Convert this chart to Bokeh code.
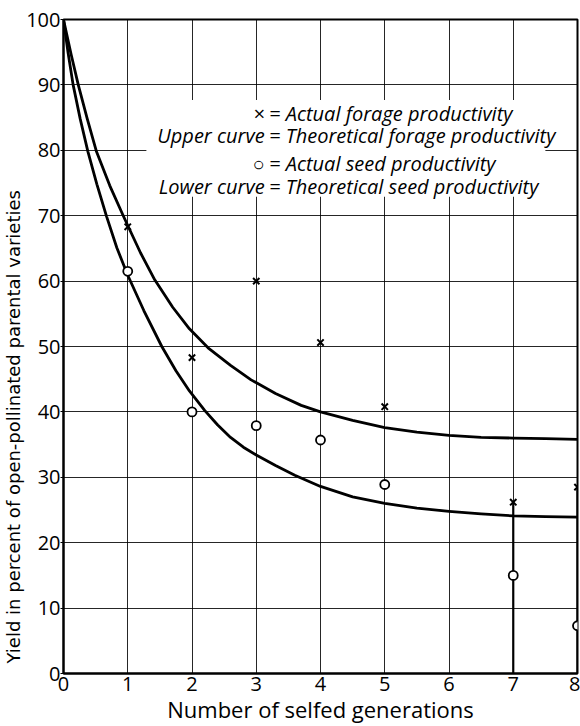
from bokeh.plotting import figure
from bokeh.models import Range1d, FixedTicker, ColumnDataSource, BoxAnnotation, Title
from bokeh.core.properties import value
from bokeh.embed import file_html
from bokeh.resources import INLINE

# ---- data ----
generations = [1, 2, 3, 4, 5, 7, 8]
forage_actual = [68.3, 48.3, 60.0, 50.6, 40.8, 26.2, 28.5]
seed_actual = [61.5, 40.0, 37.9, 35.7, 28.9, 15.0, 7.3]

upper_x = [0, 0.12, 0.23, 0.37, 0.51, 0.72, 0.93, 1.0, 1.2, 1.42, 1.7, 1.96, 2.25, 2.6, 2.92,
           3.3, 3.7, 4.0, 4.5, 5.0, 5.5, 6.0, 6.5, 7.0, 7.5, 8.0]
upper_y = [100, 94.6, 90.0, 84.8, 79.9, 74.6, 70.0, 68.5, 64.3, 60.2, 56.0, 52.7, 49.8, 47.1, 44.9,
           42.8, 41.0, 40.0, 38.7, 37.6, 36.9, 36.4, 36.1, 36.0, 35.9, 35.8]

lower_x = [0, 0.07, 0.15, 0.26, 0.38, 0.52, 0.67, 0.83, 1.0, 1.25, 1.53, 1.75, 1.96, 2.2, 2.4,
           2.6, 2.8, 3.0, 3.3, 3.6, 4.0, 4.5, 5.0, 5.5, 6.0, 6.5, 7.0, 7.5, 8.0]
lower_y = [100, 95.0, 90.0, 84.8, 79.8, 74.8, 69.9, 65.1, 60.9, 55.5, 50.0, 46.3, 43.2, 40.2, 38.0,
           36.1, 34.6, 33.4, 31.8, 30.3, 28.6, 27.0, 26.0, 25.3, 24.8, 24.4, 24.1, 24.0, 23.9]

x_ticks = [0, 1, 2, 3, 4, 5, 6, 7, 8]
y_ticks = [0, 10, 20, 30, 40, 50, 60, 70, 80, 90, 100]

legend_left = ["\u00d7", "Upper curve", "\u25cb", "Lower curve"]
legend_right = ["= Actual forage productivity",
                "= Theoretical forage productivity",
                "= Actual seed productivity",
                "= Theoretical seed productivity"]
legend_y = [85.7, 82.3, 78.0, 74.4]

x_title = "Number of selfed generations"
y_title = "Yield in percent of open-pollinated parental varieties"

FONT = "Open Sans"

p = figure(width=580, height=726, output_backend="svg", toolbar_location=None,
           x_range=Range1d(0, 8), y_range=Range1d(0, 100),
           min_border_left=0, min_border_right=3, min_border_top=19, min_border_bottom=0)
p.background_fill_color = "white"
p.border_fill_color = "white"
p.outline_line_color = "black"
p.outline_line_width = 2

for ax in (p.xaxis[0], p.yaxis[0]):
    ax.axis_line_color = "black"
    ax.axis_line_width = 2
    ax.major_label_text_font = FONT
    ax.major_label_text_font_size = "20px"
    ax.major_label_text_color = "black"
    ax.minor_tick_line_color = None
    ax.major_tick_in = 0

p.xaxis.ticker = FixedTicker(ticks=x_ticks)
p.yaxis.ticker = FixedTicker(ticks=y_ticks)
p.xaxis.major_tick_out = 0
p.yaxis.major_tick_out = 3
p.yaxis.major_tick_line_color = "black"
p.xaxis.major_label_standoff = 3
p.yaxis.major_label_standoff = 0

p.xaxis.axis_label = x_title
p.xaxis.axis_label_text_font = FONT
p.xaxis.axis_label_text_font_style = "normal"
p.xaxis.axis_label_text_font_size = "22px"
p.xaxis.axis_label_standoff = 0
p.xaxis.axis_label_text_color = "black"

for g in (p.xgrid[0], p.ygrid[0]):
    g.grid_line_color = "black"
    g.grid_line_width = 1
    g.grid_line_alpha = 0.85
p.xgrid.ticker = FixedTicker(ticks=x_ticks)
p.ygrid.ticker = FixedTicker(ticks=y_ticks)

# rotated y title, placed in the left panel
p.add_layout(Title(text=y_title, align="left", offset=10, standoff=0,
                   text_font="DejaVu Sans", text_font_size="18px", text_font_style="normal",
                   text_color="black"), "left")

# white block behind legend text (interrupts grid)
p.add_layout(BoxAnnotation(left=1.29, right=7.5, bottom=72.9, top=87.7,
                           fill_color="white", fill_alpha=1.0, line_alpha=0,
                           level="underlay"))

# theoretical curves
p.line(upper_x, upper_y, line_color="black", line_width=2.8, line_join="round")
p.line(lower_x, lower_y, line_color="black", line_width=2.8, line_join="round")

# drop lines at last generations
drop_x = generations[-2:]
drop_top = forage_actual[-2:]
p.segment(x0=drop_x, y0=[0] * len(drop_x), x1=drop_x, y1=drop_top,
          line_color="black", line_width=2.2)

# actual points
p.scatter(generations, forage_actual, marker="x", size=9, line_color="black", line_width=2)
p.scatter(generations, seed_actual, marker="circle", size=9, fill_color="white",
          line_color="black", line_width=1.8)

# legend text
eq_x = 3.2
src_l = ColumnDataSource(dict(x=[eq_x - 0.07] * 4, y=legend_y, t=legend_left))
src_r = ColumnDataSource(dict(x=[eq_x] * 4, y=legend_y, t=legend_right))
p.text("x", "y", text="t", source=src_l, text_align="right", text_baseline="middle",
       text_font=value(FONT), text_font_style="italic", text_font_size="20px", text_color="black")
p.text("x", "y", text="t", source=src_r, text_align="left", text_baseline="middle",
       text_font=value(FONT), text_font_style="italic", text_font_size="20px", text_color="black")

open("out.html", "w").write(file_html(p, INLINE))
